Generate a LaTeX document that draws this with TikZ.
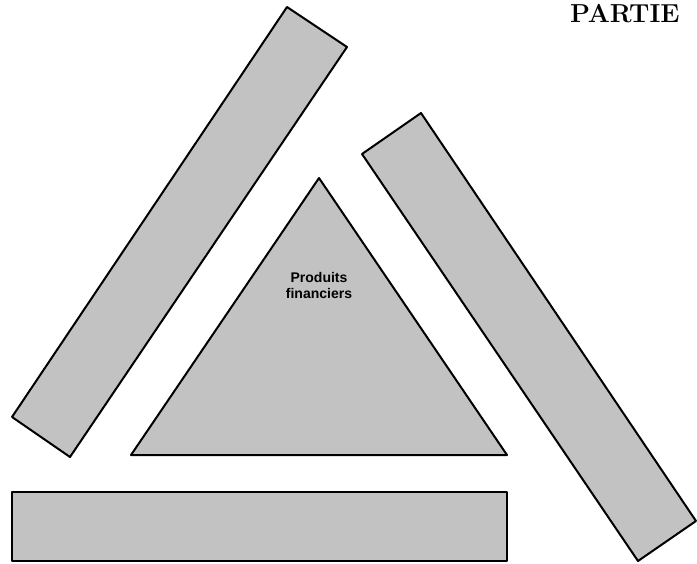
\documentclass[tikz,border=0pt]{standalone}
\usepackage{fontspec}
\newfontfamily\labelfont{Liberation Sans}
\usepackage{tikz}

\begin{document}
\begin{tikzpicture}[x = 1pt, y = -1pt,
  piece/.style = {draw = black, line width = 2pt, fill = black!24, line join = round}]
\useasboundingbox (0, 0) rectangle (697, 563);
% the three bars around the triangle
\draw[piece] (287, 7) -- (347, 47) -- (70, 457) -- (12, 417) -- cycle;
\draw[piece] (421, 113) -- (696, 521) -- (638, 561) -- (362, 154) -- cycle;
\draw[piece] (12, 492) rectangle (507, 561);
% triangle in the middle
\draw[piece] (319, 178) -- (507, 455) -- (131, 455) -- cycle;
\node[align = center, inner sep = 0, font = \labelfont\bfseries\fontsize{14}{16}\selectfont] (produits) at (319, 285) {Produits\\financiers};
\node[anchor = base west, inner sep = 0, font = \bfseries\fontsize{26}{32}\selectfont] (partie) at (570, 22) {PARTIE};
\end{tikzpicture}
\end{document}
